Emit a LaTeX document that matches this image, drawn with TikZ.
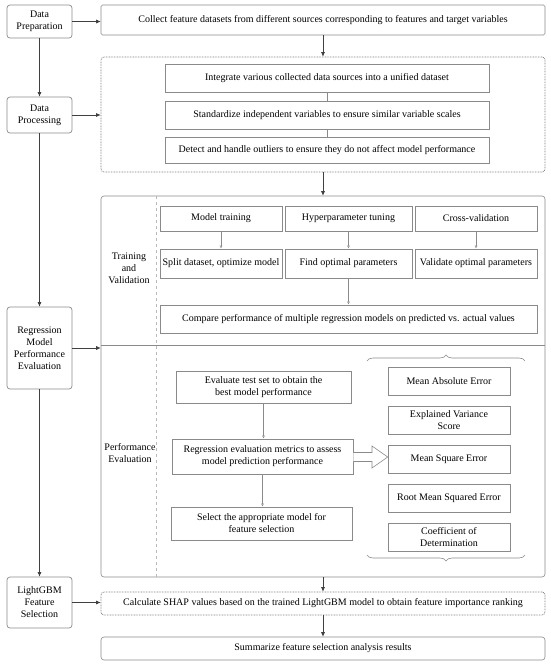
\documentclass[tikz,border=0pt]{standalone}
\usepackage{fontspec}
\setmainfont{Liberation Serif}
\usetikzlibrary{arrows.meta,decorations.pathreplacing}
\definecolor{bord}{HTML}{8A8A8A}
\definecolor{arrc}{HTML}{404040}
\begin{document}
\begin{tikzpicture}[x=1pt,y=-1pt,
  every node/.style={font=\fontsize{10}{12}\selectfont, text=black, inner sep=1pt, align=center},
  box/.style={draw=bord, line width=0.6pt, rounded corners=1.5pt},
  lbox/.style={draw=bord, line width=0.7pt, rounded corners=3pt, minimum width=65pt},
  dbox/.style={draw=bord!90!black, line width=0.7pt, rounded corners=3pt, dash pattern=on 0.8pt off 0.8pt},
  ibox/.style={draw=bord, line width=0.6pt},
  arr/.style={draw=arrc, line width=0.6pt, -{Latex[length=4.5pt,width=4pt]}},
  iarr/.style={draw=bord, line width=0.5pt, -{Latex[length=3pt,width=3pt,open]}},
  iline/.style={draw=bord, line width=0.5pt}]
\useasboundingbox (0,0) rectangle (550,667);
% left column
\node[lbox, minimum height=33pt] (prep) at (39.5,21.5) {Data\\Preparation};
\node[lbox, minimum height=36pt] (proc) at (39.5,115) {Data\\Processing};
\node[lbox, minimum height=82pt] (reg) at (39.5,348) {Regression\\Model\\Performance\\Evaluation};
\node[lbox, minimum height=51pt] (lgbm) at (39.5,602.5) {LightGBM\\Feature\\Selection};
% right column
\node[box, minimum width=444pt, minimum height=30pt] (collect) at (323,20) {Collect feature datasets from different sources corresponding to features and target variables};
\node[dbox, minimum width=444pt, minimum height=115pt] (procbox) at (323,114.5) {};
\node[ibox, minimum width=324pt, minimum height=28pt] (integ) at (327,78) {Integrate various collected data sources into a unified dataset};
\node[ibox, minimum width=324pt, minimum height=28pt] (stand) at (327,115) {Standardize independent variables to ensure similar variable scales};
\node[ibox, minimum width=324pt, minimum height=26pt] (detect) at (327,150.5) {Detect and handle outliers to ensure they do not affect model performance};
\node[box, minimum width=444pt, minimum height=381pt, rounded corners=3pt] (big) at (323,386.5) {};
\draw[draw=bord, line width=0.6pt] (101,345) -- (545,345);
\draw[draw=bord!60, line width=0.6pt, dashed] (156,196) -- (156,577);
\node (tvlab) at (129,268) {Training\\and\\Validation};
\node (pelab) at (130,453) {Performance\\Evaluation};
% training row
\node[ibox, minimum width=122pt, minimum height=25pt] (mt) at (221,218.5) {Model training};
\node[ibox, minimum width=127pt, minimum height=25pt] (hp) at (348.5,218.5) {Hyperparameter tuning};
\node[ibox, minimum width=122pt, minimum height=25pt] (cv) at (476,218.5) {Cross-validation};
\node[ibox, minimum width=122pt, minimum height=29pt] (split) at (221,263.5) {Split dataset, optimize model};
\node[ibox, minimum width=127pt, minimum height=29pt] (find) at (348.5,263.5) {Find optimal parameters};
\node[ibox, minimum width=122pt, minimum height=29pt] (valid) at (476,263.5) {Validate optimal parameters};
\node[ibox, minimum width=377pt, minimum height=28pt] (cmp) at (348.5,319) {Compare performance of multiple regression models on predicted vs. actual values};
% performance
\node[ibox, minimum width=175pt, minimum height=32pt] (eval) at (263.5,387) {Evaluate test set to obtain the\\best model performance};
\node[ibox, minimum width=181pt, minimum height=35pt] (regm) at (262.5,456.5) {Regression evaluation metrics to assess\\model prediction performance};
\node[ibox, minimum width=181pt, minimum height=33pt] (sel) at (261.5,523.5) {Select the appropriate model for\\feature selection};
\node[ibox, minimum width=122pt, minimum height=28pt] (mae) at (449,381.5) {Mean Absolute Error};
\node[ibox, minimum width=122pt, minimum height=28pt] (evs) at (449,420) {Explained Variance\\Score};
\node[ibox, minimum width=122pt, minimum height=28pt] (mse) at (449,459) {Mean Square Error};
\node[ibox, minimum width=122pt, minimum height=28pt] (rmse) at (449,498.5) {Root Mean Squared Error};
\node[ibox, minimum width=122pt, minimum height=28pt] (cod) at (449,537) {Coefficient of\\Determination};
\draw[draw=bord, line width=0.6pt, decorate, decoration={brace, amplitude=6pt}] (367,361) -- (525,361);
\draw[draw=bord, line width=0.6pt, decorate, decoration={brace, amplitude=6pt}] (525,555) -- (367,555);
% hollow arrow
\draw[draw=bord, fill=white, line width=0.6pt] (regm.east |- 0,452.5) -- (372,452.5) -- (372,446) -- (mse.west |- 0,457) -- (372,468) -- (372,461.5) -- (regm.east |- 0,461.5);
% bottom
\node[dbox, minimum width=444pt, minimum height=23pt] (shap) at (323,603.5) {Calculate SHAP values based on the trained LightGBM model to obtain feature importance ranking};
\node[box, minimum width=444pt, minimum height=23pt, rounded corners=3pt] (summ) at (323,648.5) {Summarize feature selection analysis results};
% connectors left
\draw[arr] (prep) -- (proc);
\draw[arr] (proc) -- (reg);
\draw[arr] (reg) -- (lgbm);
\draw[arr] (prep.east) -- (prep.east -| collect.west);
\draw[arr] (proc.east) -- (proc.east -| procbox.west);
\draw[arr] (reg.east) -- (reg.east -| big.west);
\draw[arr] (lgbm.east) -- (lgbm.east -| shap.west);
% connectors right
\draw[arr] (collect) -- (procbox);
\draw[iline] (integ) -- (stand);
\draw[iline] (stand) -- (detect);
\draw[arr] (procbox) -- (big);
\draw[iarr] (mt) -- (split);
\draw[iarr] (hp) -- (find);
\draw[iarr] (cv) -- (valid);
\draw[iarr] (find) -- (cmp);
\draw[iarr] (eval.south) -- (eval.south |- regm.north);
\draw[iarr] (regm.south) -- (regm.south |- sel.north);
\draw[arr] (big) -- (shap);
\draw[arr] (shap) -- (summ);
\end{tikzpicture}
\end{document}
